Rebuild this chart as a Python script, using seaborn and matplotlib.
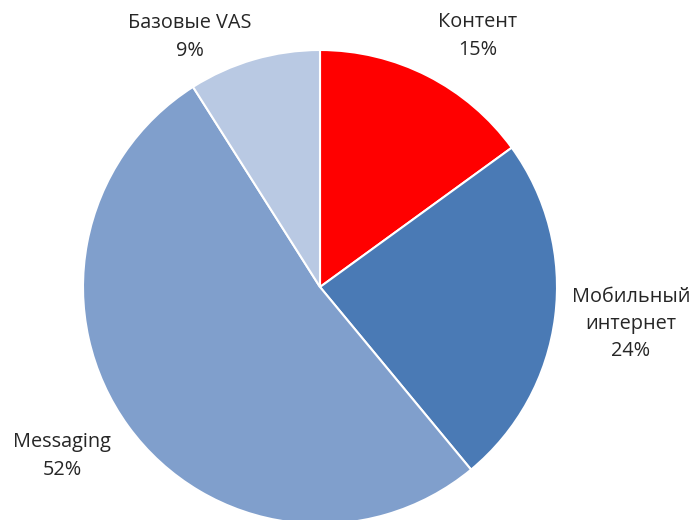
import matplotlib
matplotlib.use("Agg")
import matplotlib.pyplot as plt
import seaborn as sns

# data
categories = ["Контент", "Мобильный\nинтернет", "Messaging", "Базовые VAS"]
shares = [15, 24, 52, 9]
colors = ["#FF0000", "#4A7AB5", "#809FCC", "#B9C9E3"]

# label anchor points (pixel coords, y from top)
label_pos = [(478, 36), (631, 324), (62, 456), (190, 37)]

sns.set_theme(style="white")
plt.rcParams['font.family'] = ['Open Sans', 'DejaVu Sans']

fig = plt.figure(figsize=(6.94, 5.2), dpi=100)
ax = fig.add_axes([0, 0, 1, 1])

ax.pie(shares, colors=colors, startangle=90, counterclock=False,
       center=(320, 520 - 287), radius=237,
       wedgeprops=dict(edgecolor='white', linewidth=1.5), frame=True)
ax.set_xlim(0, 694)
ax.set_ylim(0, 520)
ax.set_aspect('equal')
ax.axis('off')

for cat, val, (x, y) in zip(categories, shares, label_pos):
    ax.text(x, 520 - y, f"{cat}\n{val}%", ha='center', va='center',
            fontsize=14.3, color='#262626', linespacing=1.5)

fig.savefig("out.png", dpi=100)
